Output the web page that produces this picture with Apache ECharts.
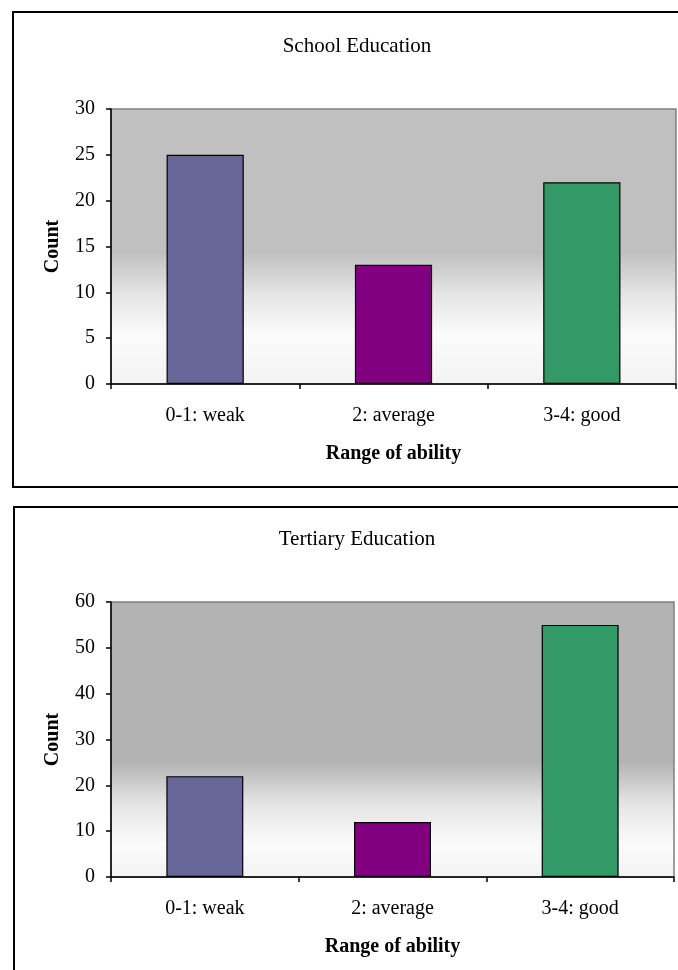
<!DOCTYPE html>
<html>
<head>
<meta charset="utf-8">
<script src="https://cdn.jsdelivr.net/npm/echarts@6/dist/echarts.min.js"></script>
<style>
  html, body { margin: 0; padding: 0; background: #fff; }
  #chart { width: 678px; height: 970px; }
</style>
</head>
<body>
<div id="chart"></div>
<script>
const categories = ['0-1: weak', '2: average', '3-4: good'];
const schoolCounts = [25, 13, 22];
const tertiaryCounts = [22, 12, 55];
const barColors = ['#666699', '#800080', '#339966'];
const titles = ['School Education', 'Tertiary Education'];
const yMax = [30, 60];
const yStep = [5, 10];

const chart = echarts.init(document.getElementById('chart'));
const font = '"Liberation Serif", "Times New Roman", serif';

// plot background: grey fading to white near the bottom
const plotBg = (grey, stop) => new echarts.graphic.LinearGradient(0, 0, 0, 1, [
  { offset: 0, color: grey },
  { offset: stop, color: grey },
  { offset: stop + 0.15, color: '#e4e4e4' },
  { offset: stop + 0.3, color: '#fbfbfb' },
  { offset: 1, color: '#f3f3f3' }
]);

const grids = [
  { left: 111, top: 109, width: 565, height: 275 },
  { left: 111, top: 602, width: 563, height: 275 }
];

const xAxes = grids.map((g, i) => ({
  type: 'category',
  gridIndex: i,
  data: categories,
  name: 'Range of ability',
  nameLocation: 'middle',
  nameGap: 60,
  nameTextStyle: { fontFamily: font, fontSize: 20, fontWeight: 'bold', color: '#000' },
  axisLine: { lineStyle: { color: '#000', width: 1.5 } },
  axisTick: { show: true, length: 5, lineStyle: { color: '#000', width: 1.5 } },
  axisLabel: { fontFamily: font, fontSize: 20, color: '#000', margin: 22 }
}));

const yAxes = grids.map((g, i) => ({
  type: 'value',
  gridIndex: i,
  min: 0,
  max: yMax[i],
  interval: yStep[i],
  name: 'Count',
  nameLocation: 'middle',
  nameGap: 48,
  nameRotate: 90,
  nameTextStyle: { fontFamily: font, fontSize: 20, fontWeight: 'bold', color: '#000' },
  axisLine: { show: true, lineStyle: { color: '#000', width: 1.5 } },
  axisTick: { show: true, length: 5, lineStyle: { color: '#000', width: 1.5 } },
  axisLabel: { fontFamily: font, fontSize: 20, color: '#000', margin: 16 },
  splitLine: { show: false }
}));

const makeSeries = (values, i) => ({
  type: 'bar',
  xAxisIndex: i,
  yAxisIndex: i,
  barWidth: '41%',
  data: values.map((v, k) => ({
    value: v,
    itemStyle: { color: barColors[k], borderColor: '#000', borderWidth: 1.2 }
  }))
});

chart.setOption({
  animation: false,
  backgroundColor: '#fff',
  title: titles.map((t, i) => ({
    text: t,
    left: 352,
    top: i === 0 ? 31 : 524,
    textAlign: 'center',
    textStyle: { fontFamily: font, fontSize: 21, fontWeight: 'normal', color: '#000' }
  })),
  grid: grids.map((g, i) => ({
    ...g,
    show: true,
    backgroundColor: i === 0 ? plotBg('#c0c0c0', 0.52) : plotBg('#b3b3b3', 0.58),
    borderColor: '#808080',
    borderWidth: 1.5
  })),
  xAxis: xAxes,
  yAxis: yAxes,
  series: [makeSeries(schoolCounts, 0), makeSeries(tertiaryCounts, 1)],
  graphic: [
    { type: 'rect', shape: { x: 13, y: 12, width: 700, height: 475 }, style: { fill: null, stroke: '#000', lineWidth: 2 }, z: 100 },
    { type: 'rect', shape: { x: 14, y: 507, width: 700, height: 500 }, style: { fill: null, stroke: '#000', lineWidth: 2 }, z: 100 }
  ]
});
</script>
</body>
</html>
